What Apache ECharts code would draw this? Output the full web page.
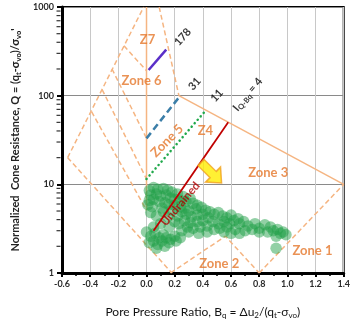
<!DOCTYPE html>
<html>
<head>
<meta charset="utf-8">
<script src="https://cdn.jsdelivr.net/npm/echarts@6/dist/echarts.min.js"></script>
<style>
html, body { margin: 0; padding: 0; background: #fff; }
#chart { width: 353px; height: 324px; }
</style>
</head>
<body>
<div id="chart"></div>
<script>
// zone boundaries (Robertson Q-Bq chart), [Bq, Q]
const leftEdge = [[-0.56, 20], [-0.02, 1000]];
const lowerEdge = [[-0.56, 20], [0.18, 1]];
const line67 = [[-0.16, 365], [0, 191]];
const line56 = [[-0.245, 200], [0, 33]];
const line45 = [[-0.315, 117], [0, 11.5]];
const line34 = [[-0.39, 66], [0, 5.1]];
const bqZero = [[0, 5.1], [0, 1000]];
const rightEdge = [[0.09, 1000], [0.23, 100]];
const zone3Top = [[0.23, 100], [1.4, 10]];
const zone2Top = [[0.17, 1], [0.56, 2.6], [0.8, 1]];
const zone1Top = [[0.8, 1], [1.4, 10]];

// I_Q-Bq contours
const iso178 = [[0.015, 195], [0.14, 330]];
const iso31 = [[0, 33], [0.24, 100]];
const iso11 = [[0, 11.5], [0.42, 68]];
const iso4 = [[0.05, 3.0], [0.58, 50]];

// log minor ticks on the Q axis
const yMinorTicks = [2, 3, 4, 5, 6, 7, 8, 9, 20, 30, 40, 50, 60, 70, 80, 90, 200, 300, 400, 500, 600, 700, 800, 900];

// CPT data points [Bq, Q]
const cptPoints = [
	[0.02, 8.5], [0.05, 9.2], [0.08, 8.8], [0.12, 9.0], [0.15, 8.6], [0.18, 8.2], [0.22, 7.8], [0.26, 7.3],
	[0.03, 7.6], [0.07, 7.8], [0.10, 7.4], [0.14, 7.6], [0.17, 7.0], [0.20, 6.8], [0.24, 6.6], [0.28, 6.4],
	[0.31, 6.9], [0.02, 6.6], [0.05, 6.8], [0.09, 6.4], [0.13, 6.2], [0.16, 5.9], [0.20, 5.8], [0.24, 5.6],
	[0.33, 6.1], [0.36, 5.8], [0.01, 5.9], [0.04, 5.6], [0.11, 5.4], [0.18, 5.1], [0.27, 5.4], [0.30, 5.0],
	[0.35, 5.3], [0.39, 5.5], [0.42, 5.1], [0.45, 4.9], [0.40, 4.6], [0.36, 4.5], [0.32, 4.3], [0.28, 4.6],
	[0.25, 4.9], [0.22, 4.4], [0.48, 4.6], [0.51, 4.8], [0.54, 4.4], [0.57, 4.2], [0.60, 4.5], [0.44, 4.2],
	[0.40, 3.9], [0.36, 3.8], [0.31, 3.7], [0.27, 3.9], [0.23, 3.6], [0.20, 3.8], [0.47, 3.8], [0.51, 3.6],
	[0.55, 3.8], [0.59, 3.6], [0.62, 3.9], [0.65, 4.1], [0.66, 3.6], [0.43, 3.4], [0.38, 3.3], [0.33, 3.2],
	[0.29, 3.3], [0.52, 3.2], [0.57, 3.3], [0.48, 3.1], [0.43, 2.9], [0.37, 2.8], [0.30, 2.9], [0.25, 3.0],
	[0.69, 3.8], [0.72, 3.4], [0.75, 3.1], [0.70, 3.0], [0.63, 3.1], [0.66, 2.8], [0.77, 3.6], [0.80, 3.2],
	[0.60, 2.8], [0.55, 2.9],
	[0.84, 3.5], [0.86, 2.9], [0.90, 3.0], [0.93, 3.1], [0.95, 2.8], [0.97, 2.9], [0.99, 2.7], [0.92, 2.6],
	[0.88, 3.3], [0.92, 1.9], [0.80, 2.9],
	[0.00, 2.9], [0.03, 2.6], [0.06, 2.8], [0.09, 2.5], [0.12, 2.7], [0.02, 2.2], [0.05, 2.3], [0.08, 2.1],
	[0.11, 2.3], [0.14, 2.5], [0.17, 2.4], [0.20, 2.6], [0.07, 1.9], [0.13, 2.0], [0.16, 2.2], [0.21, 2.3],
	[0.24, 2.5],
	[0.03, 4.8], [0.07, 4.4], [0.12, 4.9], [0.15, 4.3], [0.10, 3.6], [0.16, 3.3], [0.05, 3.3]
];

// zone label text and anchors [text, Bq, Q]
const zoneLabels = [
	['Z7', 0.007, 426], ['Zone 6', -0.035, 147], ['Z4', 0.418, 40],
	['Zone 3', 0.864, 13.6], ['Zone 2', 0.516, 1.28], ['Zone 1', 1.178, 1.8]
];
const zone5Label = ['Zone 5', 0.146, 31];
const undrainedLabel = ['Undrained', 0.24, 6.0];
const isoLabels = [['178', 0.258, 460], ['31', 0.341, 136], ['11', 0.50, 100]];
const iq4Label = ['{a|I}{s|Q-Bq}{a| = 4}', 0.718, 103];
const arrowAt = [0.46, 13.5];

const FONT = 'Lato';
const ORANGE_LINE = '#f5b582';
const ORANGE_TEXT = '#e5772a';

const chart = echarts.init(document.getElementById('chart'), null, { renderer: 'canvas' });

// thin peach zone boundary lines
function boundary(data, solid) {
	return {
		type: 'line', data, symbol: 'none', silent: true, z: 2, animation: false,
		lineStyle: { color: ORANGE_LINE, width: 1.5, type: solid ? 'solid' : [5, 3] }
	};
}

function textPoint(item, style, rotate) {
	return {
		type: 'scatter', symbolSize: 1, z: 10, silent: true, animation: false,
		itemStyle: { color: 'transparent' },
		data: [{ value: [item[1], item[2]], name: item[0] }],
		label: Object.assign({
			show: true, position: 'inside', rotate: rotate || 0,
			formatter: item[0], fontFamily: FONT, fontWeight: 'bold'
		}, style)
	};
}

const subRich = {
	a: { fontSize: 11, fontWeight: 'bold', fontFamily: FONT, color: '#000' },
	s: { fontSize: 7.5, fontWeight: 'bold', fontFamily: FONT, color: '#000', padding: [6, 0, 0, 0] }
};

chart.setOption({
	animation: false,
	grid: { left: 62, right: 6, top: 7, bottom: 49, show: true, borderColor: '#000', borderWidth: 2, backgroundColor: 'transparent' },
	xAxis: {
		type: 'value', min: -0.6, max: 1.4, interval: 0.2,
		axisLine: { show: true, onZero: false, lineStyle: { color: '#000', width: 3 } },
		axisTick: { show: true, length: 4, lineStyle: { color: '#000', width: 2 } },
		minorTick: { show: true, splitNumber: 2, length: 3, lineStyle: { color: '#000', width: 1.5 } },
		axisLabel: { formatter: (v) => v.toFixed(1), fontFamily: FONT, fontWeight: 'bold', fontSize: 9, color: '#2a2a2a', margin: 7 },
		splitLine: { show: true, lineStyle: { color: '#c8c8c8', width: 1 } },
		name: '{n|Pore Pressure Ratio, B}{s|q}{n| = Δu}{s|2}{n|/(q}{s|t}{n|-σ}{s|vo}{n|)}',
		nameLocation: 'middle', nameGap: 32,
		nameTextStyle: {
			rich: {
				n: { fontSize: 12, fontFamily: FONT, color: '#111' },
				s: { fontSize: 8, fontFamily: FONT, color: '#111', padding: [6, 0, 0, 0] }
			}
		}
	},
	yAxis: {
		type: 'log', logBase: 10, min: 1, max: 1000,
		axisLine: { show: true, onZero: false, lineStyle: { color: '#000', width: 3 } },
		axisTick: { show: true, length: 5, lineStyle: { color: '#000', width: 2 } },
		axisLabel: { formatter: (v) => String(v), fontFamily: FONT, fontWeight: 'bold', fontSize: 9, color: '#2a2a2a', margin: 8 },
		splitLine: { show: true, lineStyle: { color: '#8a8a8a', width: 1.2 } },
		name: '{n|Normalized  Cone Resistance, Q = (q}{s|t}{n|-σ}{s|vo}{n|)/σ}{s|vo}{n|\'}',
		nameLocation: 'middle', nameRotate: 90, nameGap: 38,
		nameTextStyle: {
			rich: {
				n: { fontSize: 11, fontWeight: 'bold', fontFamily: FONT, color: '#222' },
				s: { fontSize: 7.5, fontWeight: 'bold', fontFamily: FONT, color: '#222', padding: [5, 0, 0, 0] }
			}
		}
	},
	series: [
		boundary(leftEdge), boundary(lowerEdge), boundary(line67), boundary(line56),
		boundary(line45), boundary(line34), boundary(bqZero, true), boundary(rightEdge),
		boundary(zone3Top, true), boundary(zone2Top), boundary(zone1Top),
		// log minor ticks drawn just left of the Q axis
		{
			type: 'scatter', data: yMinorTicks.map((v) => [-0.6, v]), symbol: 'rect',
			symbolSize: [4, 1.2], symbolOffset: [-3.5, 0], clip: false, silent: true, z: 6,
			itemStyle: { color: '#000' }
		},
		// CPT points
		{
			type: 'scatter', data: cptPoints, symbolSize: 11.5, z: 3, silent: true,
			itemStyle: { color: 'rgba(34,160,72,0.62)' }
		},
		// I_Q-Bq contours
		{ type: 'line', data: iso178, symbol: 'none', z: 5, lineStyle: { color: '#5a2fc8', width: 2.5 } },
		{ type: 'line', data: iso31, symbol: 'none', z: 5, lineStyle: { color: '#3b7ea8', width: 2.5, type: [7, 4] } },
		{ type: 'line', data: iso11, symbol: 'none', z: 5, lineStyle: { color: '#1fa84a', width: 2.5, type: [0.1, 4.5], cap: 'round' } },
		{ type: 'line', data: iso4, symbol: 'none', z: 5, lineStyle: { color: '#c00000', width: 1.8 } },
		// yellow arrow
		{
			type: 'scatter', data: [arrowAt], z: 7, silent: true,
			symbol: 'path://M0,3.5 L10,3.5 L10,0 L17,6 L10,12 L10,8.5 L0,8.5 Z',
			symbolSize: [29, 21], symbolRotate: -45,
			itemStyle: { color: '#ffec00', borderColor: '#f0a020', borderWidth: 1.5 }
		},
		// labels
		...zoneLabels.map((l) => textPoint(l, { color: ORANGE_TEXT, fontSize: 13 })),
		textPoint(zone5Label, { color: ORANGE_TEXT, fontSize: 13 }, 45),
		textPoint(undrainedLabel, { color: '#b00000', fontSize: 11.5 }, 50),
		...isoLabels.map((l) => textPoint(l, { color: '#000', fontSize: 11 }, 48)),
		textPoint(iq4Label, { rich: subRich }, 50)
	]
});
</script>
</body>
</html>
